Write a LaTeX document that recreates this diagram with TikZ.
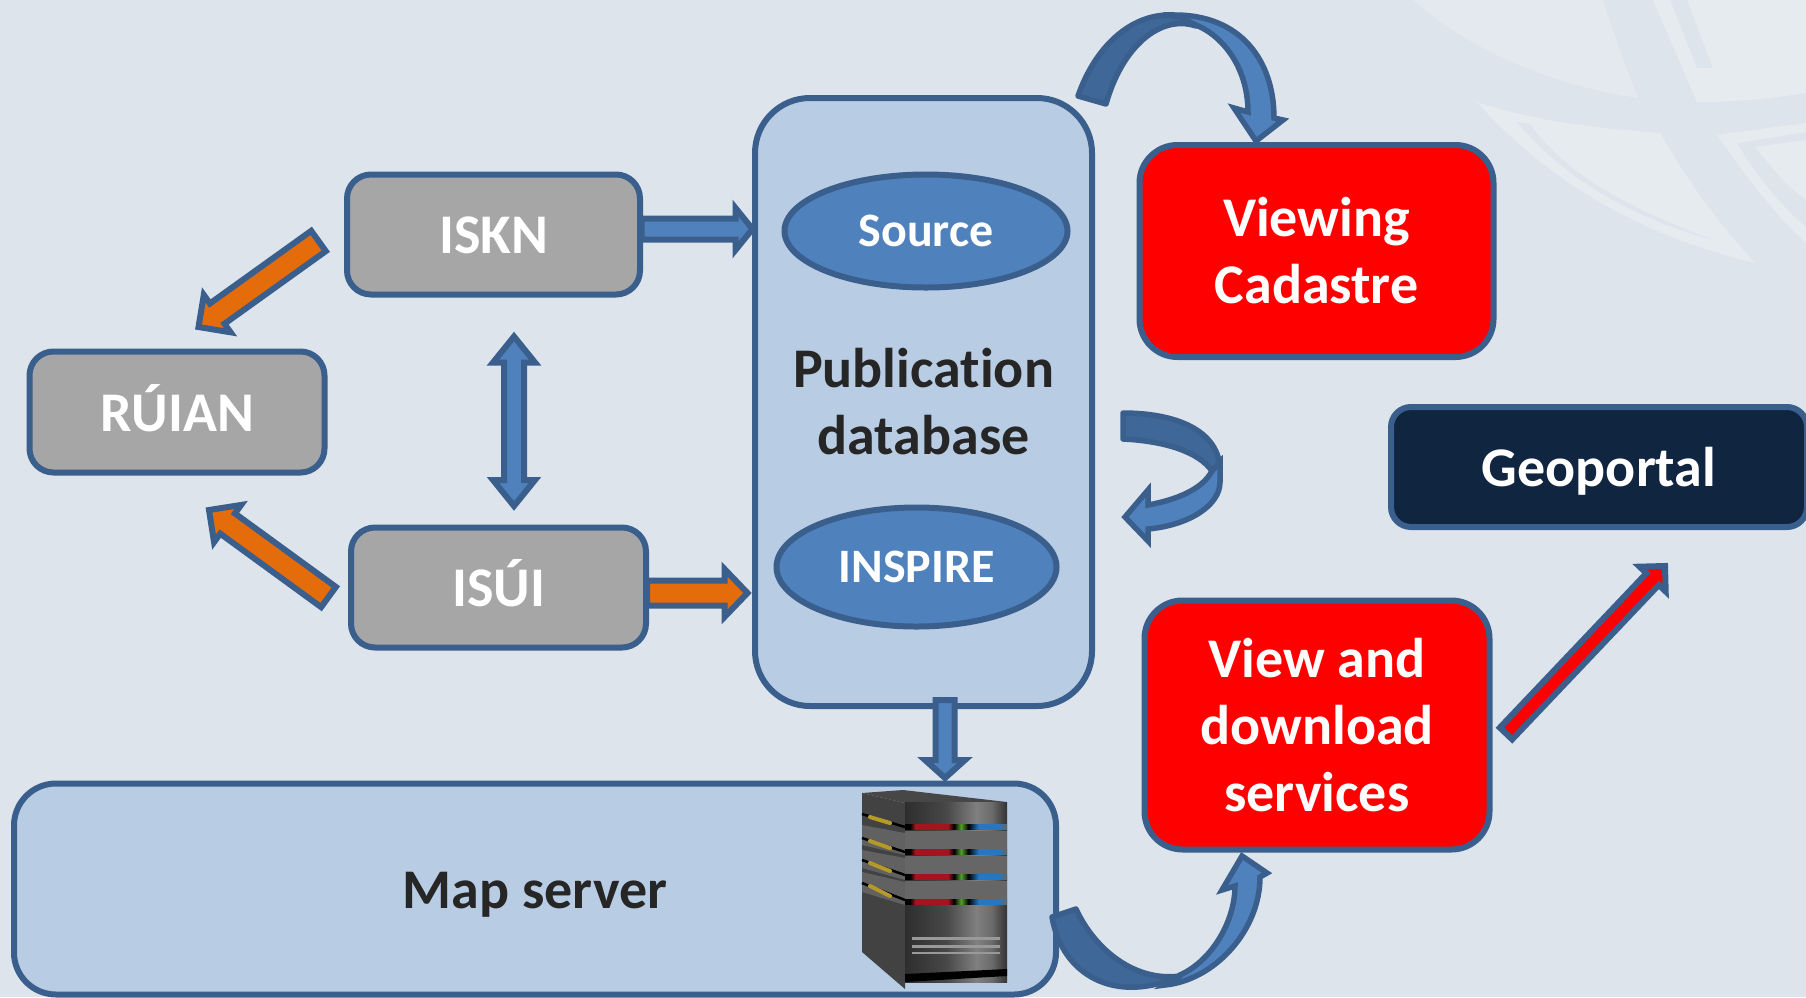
\documentclass[tikz,border=0pt]{standalone}
\usepackage{fontspec}
\setmainfont{Carlito}[Ligatures=NoCommon]
\usetikzlibrary{shapes.geometric,calc}
\definecolor{bgc}{HTML}{DDE4EC}
\definecolor{wmA}{HTML}{E4E9F0}
\definecolor{wmB}{HTML}{E6EBEF}
\definecolor{edgec}{HTML}{3A5F8D}
\definecolor{blockc}{HTML}{B8CCE4}
\definecolor{bluec}{HTML}{4F81BD}
\definecolor{darkb}{HTML}{3F6797}
\definecolor{orangec}{HTML}{E46C0A}
\definecolor{grayc}{HTML}{A6A6A6}
\definecolor{navyc}{HTML}{10253F}
\definecolor{inkc}{HTML}{262626}
\definecolor{ledr}{HTML}{A5141E}
\definecolor{ledg}{HTML}{4FA02A}
\definecolor{ledb}{HTML}{2477C0}
\definecolor{ledy}{HTML}{B59A28}
\tikzset{
  box/.style={draw=edgec,line width=6pt,inner sep=0pt,outer sep=0pt,text=white,font=\bfseries\fontsize{56}{67}\selectfont,align=center},
  capsline/.style={text height=38pt,text depth=0pt},
  graybox/.style={box,capsline,fill=grayc,rounded corners=24pt},
  redbox/.style={box,fill=red,rounded corners=38pt},
  bluebox/.style={box,fill=blockc,text=inkc},
  oval/.style={box,ellipse,fill=bluec,font=\bfseries\fontsize{48}{56}\selectfont},
  blockarrow/.style={draw=edgec,line width=6pt,line join=miter,miter limit=10},
  ribbonback/.style={draw=edgec,line width=5.5pt,fill=darkb,line join=round},
  ribbonfront/.style={draw=edgec,line width=5.5pt,fill=bluec,line join=miter}
}
\newcommand{\blockarrowpath}[6]{%
  \coordinate (ba) at ($(#3)!#6pt!(#2)$);
  \path[blockarrow,#1] ($(#2)!#4pt!90:(#3)$) -- ($(ba)!#4pt!90:(#3)$) -- ($(ba)!#5pt!90:(#3)$) -- (#3)
    -- ($(ba)!#5pt!-90:(#3)$) -- ($(ba)!#4pt!-90:(#3)$) -- ($(#2)!#4pt!-90:(#3)$) -- cycle;
}
\pgfdeclarehorizontalshading{frontshade}{100bp}{color(0bp)=(black!82);color(25bp)=(black!82);color(45bp)=(black!72);color(60bp)=(black!50);color(67.5bp)=(black!58);color(75bp)=(black!80);color(100bp)=(black!80)}
\pgfdeclarehorizontalshading{ledband}{100bp}{color(0bp)=(black);color(27.5bp)=(black);color(30bp)=(ledr);color(46bp)=(ledr);color(49bp)=(black);color(52.5bp)=(ledg);color(56bp)=(black);color(61bp)=(ledb);color(71bp)=(ledb);color(75bp)=(black!60);color(100bp)=(black!60)}
\begin{document}
\begin{tikzpicture}[x=1pt,y=-1pt]
\useasboundingbox (0,0) rectangle (1806,997);
\fill[bgc] (0,0) rectangle (1806,997);
% watermark
\fill[wmA] (1413,0) .. controls (1470,50) and (1550,85) .. (1638,98) .. controls (1625,65) and (1612,30) .. (1603,0) -- cycle;
\fill[wmB] (1653,0) -- (1697,102) .. controls (1735,102) and (1775,98) .. (1806,93) -- (1806,0) -- (1687,0) -- (1713,68) -- (1697,68) -- (1670,0) -- cycle;
\fill[wmB] (1477,102) .. controls (1540,123) and (1600,128) .. (1660,133) .. controls (1690,185) and (1720,225) .. (1755,263) .. controls (1660,240) and (1560,195) .. (1477,102) -- cycle;
\fill[bgc] (1517,122) .. controls (1570,185) and (1640,220) .. (1713,240) .. controls (1640,212) and (1570,180) .. (1530,124) -- cycle;
\fill[wmB] (1717,135) -- (1806,123) -- (1806,132) -- (1737,143) .. controls (1755,175) and (1785,210) .. (1806,227) -- (1806,243) .. controls (1775,215) and (1745,175) .. (1717,135) -- cycle;
\fill[wmB] (1755,147) -- (1806,140) -- (1806,200) .. controls (1785,185) and (1770,165) .. (1755,147) -- cycle;
% blocks
\node[bluebox,minimum width=337pt,minimum height=608pt,rounded corners=55pt] (pub) at (923.5,402) {Publication\\database};
\node[oval,minimum width=283pt,minimum height=113pt] (source) at (926,231) {Source};
\node[oval,minimum width=280pt,minimum height=119pt] (inspire) at (916.5,567) {INSPIRE};
\node[graybox,minimum width=293pt,minimum height=120pt] (iskn) at (493.5,234.5) {ISKN};
\node[graybox,minimum width=295pt,minimum height=120pt] (isui) at (498.5,587.5) {ISÚI};
\node[graybox,minimum width=295pt,minimum height=121pt] (ruian) at (177,412) {RÚIAN};
\node[redbox,minimum width=354pt,minimum height=212pt] (viewing) at (1316.5,251) {Viewing\\Cadastre};
\node[redbox,minimum width=345pt,minimum height=249pt] (services) at (1317,725) {View and\\download\\services};
\node[box,capsline,fill=navyc,rounded corners=20pt,minimum width=416pt,minimum height=120pt] (geoportal) at (1599,467) {Geoportal};
\node[bluebox,capsline,minimum width=1042pt,minimum height=211pt,rounded corners=42pt] (map) at (535,889) {Map server};
% server tower
\begin{scope}
\fill[black!72] (862,793) -- (903,790) -- (1007,802) -- (905,803) -- cycle;
\fill[black!74] (862,793) -- (905,803) -- (905,989) -- (862,952) -- cycle;
\fill[black!62] (862,825) -- (905,833) -- (905,855) -- (862,845) -- cycle;
\fill[black!62] (862,850) -- (905,858) -- (905,880) -- (862,868) -- cycle;
\fill[black!62] (862,872) -- (905,882) -- (905,905) -- (862,892) -- cycle;
\shade[shading=frontshade] (905,802) rectangle (1007,982);
\fill[black!60] (905,831) rectangle (1007,849);
\fill[black!60] (905,856) rectangle (1007,874);
\fill[black!60] (905,881) rectangle (1007,899);
\foreach \by in {827,852,877,902} {
  \shade[shading=ledband] (905,\by-2.5) rectangle (1007,\by+2.5);
}
\foreach \ly/\ry in {817/823,841/848,863/871,886/896} {
  \draw[line width=2.5pt,black] (862,\ly-3) -- (905,\ry+4);
  \draw[line width=4pt,ledy,line cap=round] (870,\ly) -- (890,\ry);
}
\fill[black!40] (912,937) rectangle (1000,940);
\fill[black!40] (912,945) rectangle (1000,948);
\fill[black!40] (912,952) rectangle (1000,954);
\fill[black] (905,974) -- (1007,969) -- (1007,976) -- (905,982) -- cycle;
\end{scope}
% straight block arrows
\coordinate (a1s) at ($(iskn)+(148,-5.5)$);
\coordinate (a1e) at ($(pub)+(-171,-173)$);
\blockarrowpath{fill=bluec}{a1s}{a1e}{10.5}{21}{17}
\coordinate (a2s) at ($(isui)+(148.5,5.5)$);
\coordinate (a2e) at ($(pub)+(-176,191)$);
\blockarrowpath{fill=orangec}{a2s}{a2e}{12.5}{24}{23}
\coordinate (a3s) at ($(iskn)+(20.5,102)$);
\coordinate (a3e) at ($(isui)+(15.5,-81.5)$);
\path[blockarrow,fill=bluec] ($(a3s)+(-10,26)$) -- ($(a3s)+(-21,26)$) -- (a3s) -- ($(a3s)+(21,26)$) -- ($(a3s)+(10,26)$) -- ($(a3e)+(10,-26)$) -- ($(a3e)+(21,-26)$) -- (a3e) -- ($(a3e)+(-21,-26)$) -- ($(a3e)+(-10,-26)$) -- cycle;
\coordinate (a4s) at ($(iskn)+(-175,6.5)$);
\coordinate (a4e) at ($(ruian)+(21.5,-85)$);
\blockarrowpath{fill=orangec}{a4s}{a4e}{12.5}{23}{23}
\coordinate (a5s) at ($(isui)+(-170,9.5)$);
\coordinate (a5e) at ($(ruian)+(32,98)$);
\blockarrowpath{fill=orangec}{a5s}{a5e}{12.5}{23}{23}
\coordinate (a6s) at ($(pub)+(21.5,298)$);
\coordinate (a6e) at ($(map)+(410,-111)$);
\blockarrowpath{fill=bluec}{a6s}{a6e}{9.5}{20}{18}
\coordinate (a7s) at ($(services)+(189,8.5)$);
\coordinate (a7e) at ($(geoportal)+(66,99)$);
\blockarrowpath{fill=red}{a7s}{a7e}{8.5}{18}{18}
% curved ribbon arrows
\path[ribbonback] (1078,96) .. controls (1095,47) and (1130,15) .. (1169,15) -- (1206,21) -- (1196,26) .. controls (1160,14) and (1122,47) .. (1106,104) -- cycle;
\path[ribbonfront] (1175,15) .. controls (1240,15) and (1274,60) .. (1274,118)
  -- (1283,120) -- (1256,141) -- (1234,108) -- (1248,112) .. controls (1248,70) and (1225,37) .. (1196,25) -- cycle;
\path[ribbonback] (1123,413) .. controls (1175,413) and (1220,430) .. (1220,471) -- (1212,471) .. controls (1199,452) and (1165,441) .. (1123,439) -- cycle;
\path[ribbonfront] (1220,462) -- (1220,482) .. controls (1220,505) and (1190,525) .. (1148,529)
  -- (1148,541) -- (1125,517) -- (1148,490) -- (1148,505) .. controls (1175,500) and (1202,490) .. (1212,471) -- cycle;
\path[ribbonfront] (1165,985) .. controls (1215,980) and (1260,930) .. (1260,877)
  -- (1267,873) -- (1242,856) -- (1222,890) -- (1235,886) .. controls (1235,920) and (1213,960) .. (1180,975) -- cycle;
\path[ribbonback] (1052,917) .. controls (1062,975) and (1115,1005) .. (1180,976) .. controls (1135,982) and (1095,950) .. (1076,909) -- cycle;
\end{tikzpicture}
\end{document}
